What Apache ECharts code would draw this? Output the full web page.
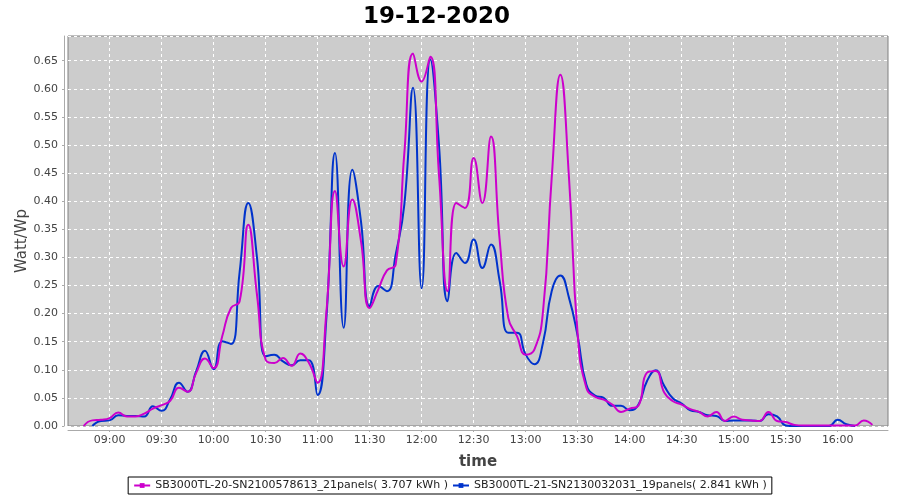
<!DOCTYPE html>
<html><head><meta charset="utf-8">
<script src="https://cdn.jsdelivr.net/npm/echarts@6/dist/echarts.min.js"></script>
<style>html,body{margin:0;padding:0;background:#fff}#c{width:900px;height:500px}</style>
</head><body><div id="c"></div>
<script>
const chartTitle = '19-12-2020';
const yAxisName = 'Watt/Wp';
const xAxisName = 'time';
const xStart = '08:36';
const xEnd = '16:29';
const yMax = 0.694;
const xTickLabels = ['09:00','09:30','10:00','10:30','11:00','11:30','12:00','12:30','13:00','13:30','14:00','14:30','15:00','15:30','16:00'];
const seriesNames = [
  'SB3000TL-20-SN2100578613_21panels( 3.707 kWh )',
  'SB3000TL-21-SN2130032031_19panels( 2.841 kWh )'
];
const times = [
  '08:45','08:50','08:55','09:00','09:05','09:10','09:15','09:20','09:25','09:30','09:35','09:40','09:45','09:50','09:55',
  '10:00','10:05','10:10','10:15','10:20','10:25','10:30','10:35','10:40','10:45','10:50','10:55',
  '11:00','11:05','11:10','11:15','11:20','11:25','11:30','11:35','11:40','11:45','11:50','11:55',
  '12:00','12:05','12:10','12:15','12:20','12:25','12:30','12:35','12:40','12:45','12:50','12:55',
  '13:00','13:05','13:10','13:15','13:20','13:25','13:30','13:35','13:40','13:45','13:50','13:55',
  '14:00','14:05','14:10','14:15','14:20','14:25','14:30','14:35','14:40','14:45','14:50','14:55',
  '15:00','15:05','15:10','15:15','15:20','15:25','15:30','15:35','15:40','15:45','15:50','15:55',
  '16:00','16:05','16:10','16:15','16:20'
];
const magenta = [
  0.000,0.010,0.011,0.014,0.024,0.017,0.017,0.022,0.031,0.037,0.045,0.068,0.061,0.095,0.120,
  0.103,0.160,0.210,0.222,0.358,0.234,0.118,0.112,0.121,0.107,0.129,0.112,
  0.077,0.201,0.418,0.284,0.403,0.329,0.210,0.243,0.277,0.287,0.485,0.663,
  0.613,0.657,0.447,0.240,0.397,0.388,0.477,0.397,0.515,0.331,0.192,0.160,
  0.127,0.136,0.204,0.441,0.625,0.441,0.163,0.068,0.052,0.047,0.038,0.025,
  0.031,0.036,0.095,0.098,0.059,0.044,0.038,0.030,0.025,0.017,0.025,0.009,
  0.017,0.011,0.010,0.009,0.025,0.009,0.007,0.002,0.001,0.001,0.001,0.001,
  0.001,0.001,0.001,0.010,0.002
];
const blue = [
  null,0.000,0.009,0.010,0.019,0.018,0.018,0.017,0.035,0.027,0.048,0.077,0.061,0.098,0.134,
  0.101,0.151,0.146,0.274,0.397,0.300,0.124,0.127,0.115,0.108,0.117,0.117,
  0.055,0.190,0.486,0.175,0.456,0.364,0.213,0.249,0.240,0.305,0.394,0.602,
  0.245,0.652,0.500,0.222,0.308,0.290,0.332,0.281,0.323,0.258,0.166,0.166,
  0.127,0.110,0.148,0.240,0.268,0.228,0.160,0.074,0.054,0.050,0.036,0.036,
  0.028,0.038,0.080,0.099,0.071,0.049,0.040,0.028,0.025,0.019,0.018,0.009,
  0.010,0.010,0.010,0.009,0.021,0.017,0.001,0.000,0.000,0.000,0.000,0.000,
  0.011,0.003,0.000,null,null
];
function mins(t){ const p=t.split(':'); return (+p[0])*60 + (+p[1]); }
function pairs(vals){ return times.map((t,i)=>[mins(t), vals[i]]).filter(p=>p[1]!==null); }
function pad(n){ return (n<10?'0':'')+n; }
function fmt(m){ m=Math.round(m); return pad(Math.floor(m/60))+':'+pad(m%60); }
const xTickValues = xTickLabels.map(mins);
const FONT = 'DejaVu Sans';
const chart = echarts.init(document.getElementById('c'), null, {renderer:'canvas'});
chart.setOption({
  animation:false,
  backgroundColor:'#ffffff',
  title:{ text: chartTitle, left:358, top:1,
    textStyle:{ fontFamily:FONT, fontSize:23, fontWeight:'bold', color:'#000' } },
  legend:{ top:477, left:'center', padding:[3,5], borderColor:'#000', borderWidth:1, itemGap:4,
    itemWidth:16, itemHeight:6,
    textStyle:{ fontFamily:FONT, fontSize:11, color:'#222' }, data: seriesNames },
  graphic:[{ type:'text', x:22, y:241, rotation:Math.PI/2,
    style:{ text: yAxisName, font:'15px "DejaVu Sans"', fill:'#444', textAlign:'center', textVerticalAlign:'middle' } }],
  grid:{ left:68, right:12, top:36, bottom:74, show:true, backgroundColor:'#cccccc', borderColor:'#808080', borderWidth:1 },
  xAxis:{ type:'value', min: mins(xStart), max: mins(xEnd),
    name:xAxisName, nameLocation:'middle', nameGap:25,
    nameTextStyle:{ fontFamily:FONT, fontSize:15, color:'#444', fontWeight:'bold' },
    axisLine:{ show:true, onZero:false, lineStyle:{ color:'#aaaaaa' } },
    offset:4,
    axisTick:{ show:true, length:2, customValues: xTickValues, lineStyle:{ color:'#aaaaaa' } },
    axisLabel:{ fontFamily:FONT, fontSize:11, color:'#444', margin:5, customValues: xTickValues,
      formatter:function(v){ return fmt(v); } },
    splitLine:{ show:true, lineStyle:{ color:'#ffffff', type:[3,3], width:1 } }
  },
  yAxis:{ type:'value', min:0, max:yMax, interval:0.05,
    offset:4,
    axisLine:{ show:true, lineStyle:{ color:'#aaaaaa' } },
    axisTick:{ show:true, length:2, lineStyle:{ color:'#aaaaaa' } },
    axisLabel:{ fontFamily:FONT, fontSize:11, color:'#444', margin:6, showMaxLabel:false,
      formatter:function(v){ return v.toFixed(2); } },
    splitLine:{ show:true, lineStyle:{ color:'#ffffff', type:[3,3], width:1 } }
  },
  series:[
    { name: seriesNames[1], type:'line', data: pairs(blue), smooth:0.5, showSymbol:false, symbol:'rect', symbolSize:3,
      itemStyle:{ color:'#0033cc' }, lineStyle:{ color:'#0033cc', width:2 }, z:2 },
    { name: seriesNames[0], type:'line', data: pairs(magenta), smooth:0.5, showSymbol:false, symbol:'rect', symbolSize:3,
      itemStyle:{ color:'#cc00cc' }, lineStyle:{ color:'#cc00cc', width:2 }, z:3 }
  ]
});
</script></body></html>
